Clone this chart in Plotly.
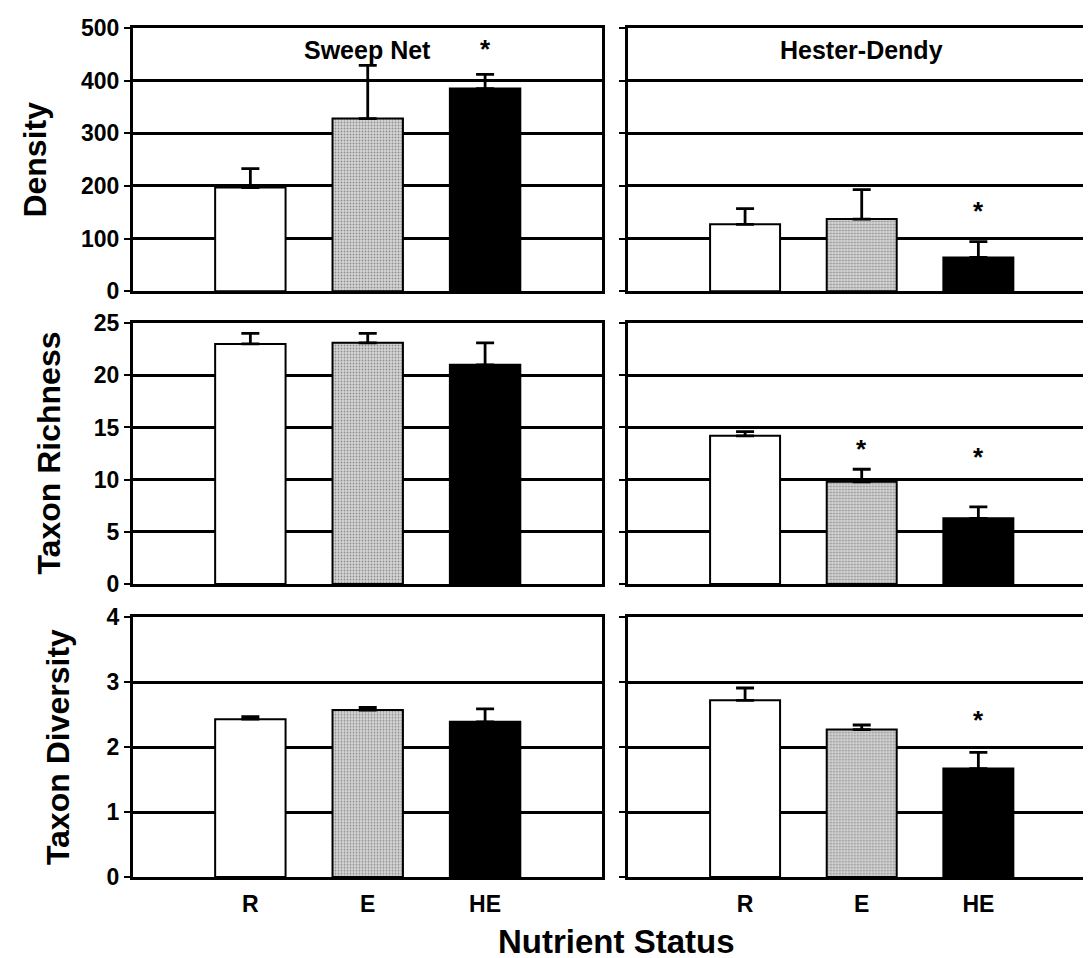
import plotly.graph_objects as go

categories = ["R", "E", "HE"]

sweep_density = [197, 328, 385]
sweep_density_se = [36, 101, 27]
hd_density = [127, 137, 64]
hd_density_se = [30, 56, 30]

sweep_richness = [23.0, 23.1, 21.0]
sweep_richness_se = [1.0, 0.9, 2.1]
hd_richness = [14.2, 9.8, 6.3]
hd_richness_se = [0.4, 1.2, 1.1]

sweep_diversity = [2.43, 2.57, 2.39]
sweep_diversity_se = [0.04, 0.04, 0.20]
hd_diversity = [2.72, 2.27, 1.67]
hd_diversity_se = [0.19, 0.07, 0.25]

row_titles = ["Density", "Taxon Richness", "Taxon Diversity"]
col_titles = ["Sweep Net", "Hester-Dendy"]
y_ranges = [[0, 500], [0, 25], [0, 4]]
y_dticks = [100, 5, 1]

# significance markers: (row, col, category, y position)
asterisks = [
    (0, 0, "HE", 452),
    (0, 1, "HE", 145),
    (1, 1, "E", 12.6),
    (1, 1, "HE", 11.8),
    (2, 1, "HE", 2.36),
]

values = [
    [(sweep_density, sweep_density_se), (hd_density, hd_density_se)],
    [(sweep_richness, sweep_richness_se), (hd_richness, hd_richness_se)],
    [(sweep_diversity, sweep_diversity_se), (hd_diversity, hd_diversity_se)],
]

FONT = "Liberation Sans, Arial, sans-serif"
x_domains = [[0, 0.488], [0.515, 1.0]]
y_domains = [[0.690, 1.0], [0.345, 0.6525], [0.0, 0.306]]

fig = go.Figure()

fill_colors = ["white", "#d6d6d6", "black"]

for r in range(3):
    for c in range(2):
        idx = r * 2 + c + 1
        xa = "x" if idx == 1 else f"x{idx}"
        ya = "y" if idx == 1 else f"y{idx}"
        vals, se = values[r][c]
        fig.add_trace(go.Bar(
            x=categories, y=vals, xaxis=xa, yaxis=ya,
            width=0.6,
            marker=dict(
                color=fill_colors,
                line=dict(color="black", width=2),
                pattern=dict(shape=["", ".", ""], fgcolor="#6a6a6a",
                             bgcolor="#dcdcdc", size=3, solidity=0.3,
                             fillmode="overlay"),
            ),
            error_y=dict(type="data", array=se, arrayminus=[0] * len(se),
                         symmetric=False, color="black", thickness=2.8, width=9),
            showlegend=False,
        ))
        xkey = "xaxis" if idx == 1 else f"xaxis{idx}"
        ykey = "yaxis" if idx == 1 else f"yaxis{idx}"
        fig.layout[xkey] = dict(
            domain=x_domains[c], anchor=ya, type="category",
            range=[-1, 3], showgrid=False, showline=True, linecolor="black",
            linewidth=3, mirror=True, ticks="",
            showticklabels=(r == 2),
            tickfont=dict(family=FONT, size=23, color="black", weight="bold"),
            ticklabelstandoff=4,
        )
        fig.layout[ykey] = dict(
            domain=y_domains[r], anchor=xa, range=y_ranges[r], dtick=y_dticks[r],
            showgrid=True, gridcolor="black", gridwidth=2.8,
            showline=True, linecolor="black", linewidth=3, mirror=True,
            ticks="outside", ticklen=6, tickwidth=2, tickcolor="black",
            showticklabels=(c == 0), zeroline=False,
            tickfont=dict(family=FONT, size=23, color="black", weight="bold"),
        )

annotations = []
for c, t in enumerate(col_titles):
    xa = "x" if c == 0 else "x2"
    annotations.append(dict(
        text=t, x="E", xref=xa, y=0.915, yref=("y domain" if c == 0 else "y2 domain"),
        xanchor="center", yanchor="middle", showarrow=False,
        font=dict(family=FONT, size=25, color="black", weight="bold"),
    ))

title_px = [-98, -84, -75]
for r, t in enumerate(row_titles):
    annotations.append(dict(
        text=t, textangle=-90, xref="paper", x=0, xshift=title_px[r],
        xanchor="center", yanchor="middle",
        yref="paper", y=sum(y_domains[r]) / 2, showarrow=False,
        font=dict(family=FONT, size=32, color="black", weight="bold"),
    ))

annotations.append(dict(
    text="Nutrient Status", xref="paper", x=0.503, yref="paper", y=0,
    yshift=-64, showarrow=False, xanchor="center", yanchor="middle",
    font=dict(family=FONT, size=33, color="black", weight="bold"),
))

for (r, c, cat, yv) in asterisks:
    idx = r * 2 + c + 1
    xa = "x" if idx == 1 else f"x{idx}"
    ya = "y" if idx == 1 else f"y{idx}"
    annotations.append(dict(
        text="*", x=cat, xref=xa, y=yv, yref=ya, showarrow=False,
        xanchor="center", yanchor="middle", yshift=4,
        font=dict(family=FONT, size=26, color="black", weight="bold"),
    ))

fig.update_layout(
    width=1091, height=958,
    margin=dict(l=125, r=1, t=20, b=89),
    paper_bgcolor="white", plot_bgcolor="white",
    annotations=annotations,
    bargap=0.4,
)

fig.write_html("out.html")
